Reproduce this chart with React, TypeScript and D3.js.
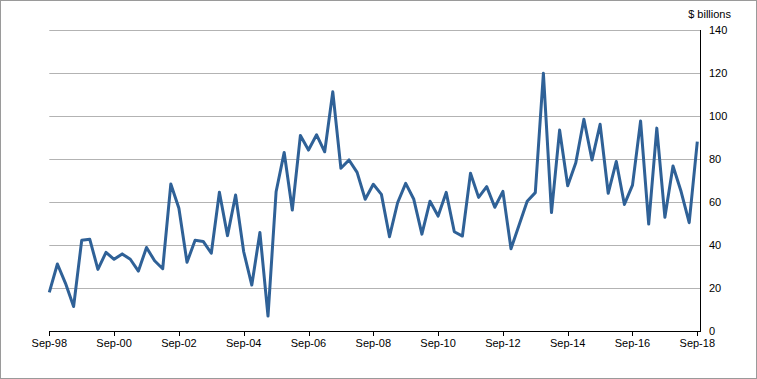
import React from "react";
import * as d3 from "d3";

const values: number[] = [
  18.1, 31.3, 22.3, 11.5, 42.3, 42.8, 28.8, 36.7, 33.5, 36.0,
  33.5, 28.0, 39.0, 32.8, 29.1, 68.5, 57.2, 32.1, 42.3, 41.8,
  36.3, 64.7, 44.5, 63.4, 37.0, 21.5, 46.0, 7.1, 64.9, 83.2,
  56.4, 91.1, 84.3, 91.4, 83.5, 111.4, 75.8, 79.7, 73.9, 61.4,
  68.4, 63.7, 44.0, 59.8, 68.8, 61.4, 45.2, 60.5, 53.6, 64.6,
  46.3, 44.3, 73.5, 62.3, 67.3, 57.7, 65.1, 38.4, 49.4, 60.5,
  64.5, 120.0, 55.2, 93.6, 67.7, 78.4, 98.6, 79.7, 96.3, 64.2,
  79.0, 59.0, 68.0, 97.8, 49.9, 94.5, 53.0, 76.9, 65.0, 50.5,
  88.2,
];

const xTickLabels: string[] = [
  "Sep-98", "Sep-00", "Sep-02", "Sep-04", "Sep-06", "Sep-08",
  "Sep-10", "Sep-12", "Sep-14", "Sep-16", "Sep-18",
];
const yTicks: number[] = [0, 20, 40, 60, 80, 100, 120, 140];
const unitLabel = "$ billions";

const W = 757;
const H = 379;
const FONT = "'Liberation Sans', Arial, sans-serif";

export default function App() {
  const x = d3.scaleLinear().domain([0, values.length - 1]).range([49.3, 697.3]);
  const y = d3.scaleLinear().domain([0, 140]).range([331.3, 30.3]);
  const plotLeft = 49.3;
  const plotRight = 700;

  const line = d3
    .line<number>()
    .x((_, i) => x(i))
    .y((d) => y(d));

  return (
    <svg
      width={W}
      height={H}
      style={{ position: "absolute", left: 0, top: 0, background: "#fff" }}
      fontFamily={FONT}
    >
      <rect x={0.5} y={0.5} width={W - 1} height={H - 1} fill="#fff" stroke="#9a9a9a" />
      {yTicks.filter((t) => t > 0).map((t) => (
        <line
          key={t}
          x1={plotLeft}
          x2={plotRight}
          y1={Math.round(y(t)) + 0.5}
          y2={Math.round(y(t)) + 0.5}
          stroke="#b3b3b3"
          strokeWidth={1}
        />
      ))}
      <path d={line(values) || ""} fill="none" stroke="#2f6197" strokeWidth={3} strokeLinejoin="round" />
      {/* bottom axis */}
      <line x1={plotLeft} x2={plotRight} y1={331.5} y2={331.5} stroke="#000" strokeWidth={1} />
      {xTickLabels.map((lab, i) => {
        const xi = Math.round(x(i * 8)) + 0.5;
        return (
          <g key={lab}>
            <line x1={xi} x2={xi} y1={331} y2={336} stroke="#000" strokeWidth={1} />
            <text x={x(i * 8)} y={347} fontSize={11} textAnchor="middle" fill="#000">
              {lab}
            </text>
          </g>
        );
      })}
      {/* right axis */}
      <line x1={700.5} x2={700.5} y1={30} y2={332} stroke="#000" strokeWidth={1} />
      {yTicks.map((t) => (
        <text key={t} x={709} y={y(t) + 4} fontSize={11} fill="#000">
          {t}
        </text>
      ))}
      <text x={731} y={18} fontSize={11} textAnchor="end" fill="#000">
        {unitLabel}
      </text>
    </svg>
  );
}
